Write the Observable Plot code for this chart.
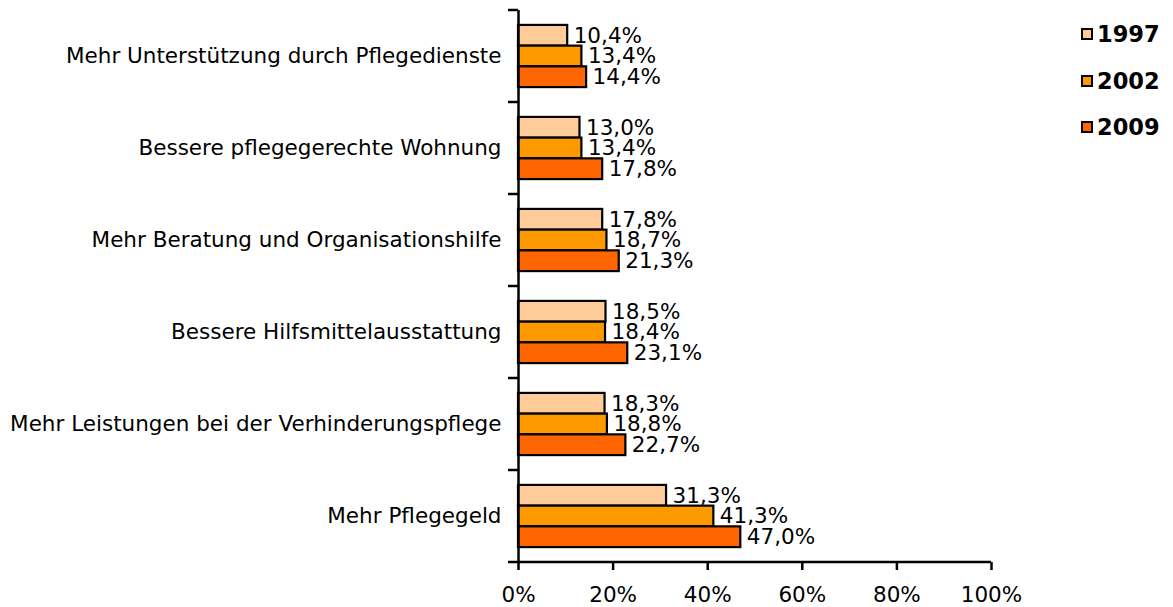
<!DOCTYPE html>
<html>
<head>
<meta charset="utf-8">
<script src="https://cdn.jsdelivr.net/npm/d3@7"></script>
<script src="https://cdn.jsdelivr.net/npm/@observablehq/plot@0.6"></script>
<style>
  html, body { margin: 0; padding: 0; background: #fff; }
  #wrap { position: relative; width: 1173px; height: 607px; font-family: "DejaVu Sans", Verdana, sans-serif; }
  #legend { position: absolute; left: 1081px; top: 22px; }
  .item { display: flex; align-items: center; height: 24px; margin-bottom: 22.5px; font-weight: bold; font-size: 22.5px; color: #000; }
  .sw { width: 8px; height: 8px; border: 2px solid #000; margin-right: 4px; }
</style>
</head>
<body>
<div id="wrap"><div id="chart"></div><div id="legend"></div></div>
<script>
const categories = [
  "Mehr Unterstützung durch Pflegedienste",
  "Bessere pflegegerechte Wohnung",
  "Mehr Beratung und Organisationshilfe",
  "Bessere Hilfsmittelausstattung",
  "Mehr Leistungen bei der Verhinderungspflege",
  "Mehr Pflegegeld"
];
const years = ["1997", "2002", "2009"];
const values1997 = [10.4, 13.0, 17.8, 18.5, 18.3, 31.3];
const values2002 = [13.4, 13.4, 18.7, 18.4, 18.8, 41.3];
const values2009 = [14.4, 17.8, 21.3, 23.1, 22.7, 47.0];
const colors = ["#FFCC99", "#FF9900", "#FF6600"];
const xTicks = [0, 20, 40, 60, 80, 100];

const series = [values1997, values2002, values2009];
const data = [];
categories.forEach((c, i) => years.forEach((y, j) => data.push({category: c, year: y, value: series[j][i]})));
const fmt = v => d3.format(".1f")(v).replace(".", ",") + "%";

const plot = Plot.plot({
  width: 1173,
  height: 607,
  marginLeft: 518,
  marginRight: 182,
  marginTop: 10,
  marginBottom: 45,
  style: {fontFamily: "DejaVu Sans, Verdana, sans-serif", fontSize: "21.5px", color: "#000", background: "#fff", overflow: "visible"},
  x: {domain: [0, 100], ticks: xTicks, tickFormat: d => d + "%", tickSize: 8, tickPadding: 16, label: null},
  y: {domain: years, axis: null, paddingInner: 0, paddingOuter: 0.72, round: false},
  fy: {domain: categories, padding: 0, axis: "left", tickSize: 0, tickPadding: 17, label: null, round: false},
  color: {domain: years, range: colors},
  marks: [
    Plot.barX(data, {x: "value", y: "year", fy: "category", fill: "year", stroke: "#000", strokeWidth: 2.2}),
    Plot.text(data, {x: "value", y: "year", fy: "category", text: d => fmt(d.value), textAnchor: "start", dx: 6, fontSize: 21.5, fill: "#000"}),
    Plot.ruleX([0], {stroke: "#000", strokeWidth: 2.5})
  ]
});
document.getElementById("chart").appendChild(plot);

// axis baseline and category boundary ticks, positioned through the plot's own scales
const svg = d3.select(plot.tagName === "svg" ? plot : plot.querySelector("svg"));
const xs = plot.scale("x"), fys = plot.scale("fy");
const x0 = xs.apply(0), x1 = xs.apply(100);
const yTop = fys.apply(categories[0]) - (fys.step - fys.bandwidth) / 2;
const step = fys.step;
const g = svg.append("g").attr("stroke", "#000").attr("stroke-width", 2.5);
for (let i = 0; i <= categories.length; i++) {
  const yy = yTop + i * step;
  g.append("line").attr("x1", x0 - 10).attr("x2", x0).attr("y1", yy).attr("y2", yy);
}
const yBottom = yTop + categories.length * step;
g.append("line").attr("x1", x0).attr("x2", x1).attr("y1", yBottom).attr("y2", yBottom);
svg.selectAll("[aria-label='x-axis tick'] path, [aria-label='x-axis tick'] line").attr("stroke-width", 2.5);

const legend = d3.select("#legend");
years.forEach((y, j) => {
  const it = legend.append("div").attr("class", "item");
  it.append("div").attr("class", "sw").style("background", colors[j]);
  it.append("span").text(y);
});
</script>
</body>
</html>
